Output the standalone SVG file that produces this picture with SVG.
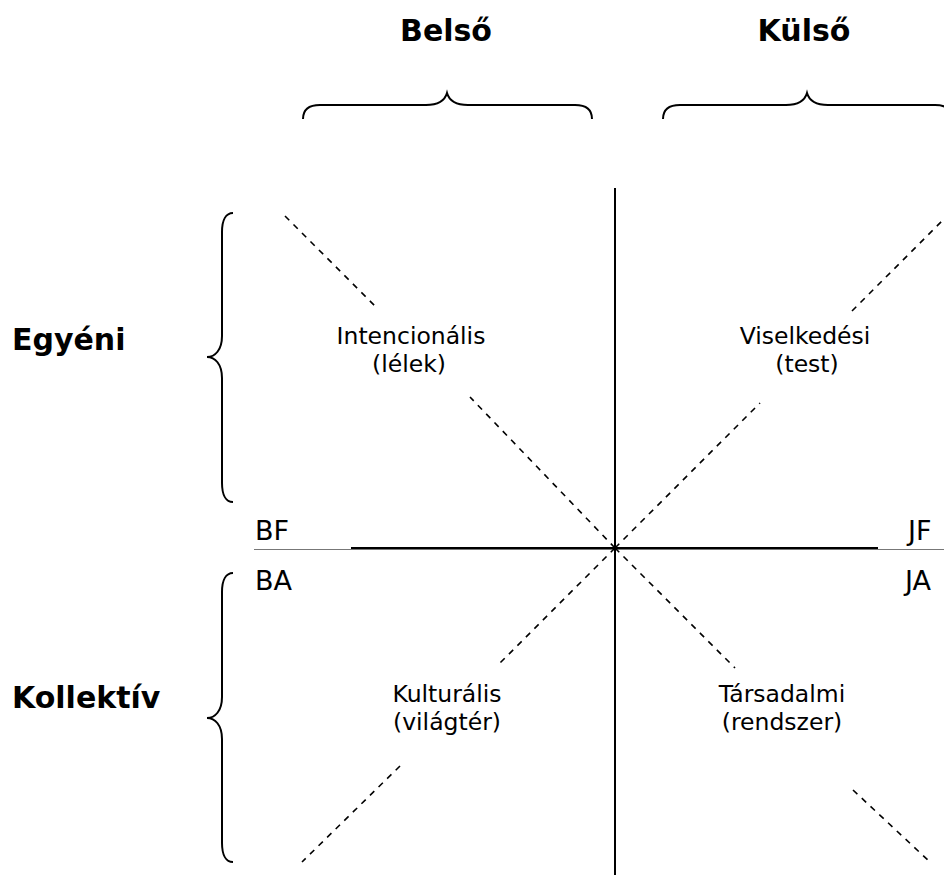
<svg xmlns="http://www.w3.org/2000/svg" width="944" height="875" viewBox="0 0 944 875">
  <style>
    .head { font-family: "DejaVu Sans", Verdana, sans-serif; font-weight: bold; font-size: 30px; fill: #000; }
    .lbl { font-family: "DejaVu Sans", Verdana, sans-serif; font-size: 23.5px; fill: #000; text-anchor: middle; }
    .corner { font-family: "DejaVu Sans", Verdana, sans-serif; font-size: 27px; fill: #000; }
    .brace { fill: none; stroke: #000; stroke-width: 2; }
    .axis { stroke: #000; stroke-width: 2; }
    .dash { stroke: #000; stroke-width: 1.6; stroke-dasharray: 6 6; fill: none; }
  </style>
  <rect width="944" height="875" fill="#fff"/>

  <!-- column headings -->
  <g id="belso">
    <text class="head" x="446" y="41" text-anchor="middle">Belső</text>
    <path class="brace" d="M303,119 C303,110 308,105 320,105 L426,105 C438,105 445,100 447,93 C449,100 456,105 468,105 L575,105 C587,105 592,110 592,119"/>
  </g>
  <g id="kulso">
    <text class="head" x="804" y="41" text-anchor="middle">Külső</text>
    <path class="brace" d="M663,119 C663,110 668,105 680,105 L786,105 C798,105 805,100 807,93 C809,100 816,105 828,105 L935,105 C947,105 952,110 952,119"/>
  </g>

  <!-- row headings -->
  <g id="egyeni">
    <text class="head" x="12" y="350">Egyéni</text>
    <path class="brace" d="M233,213 C226,213 222,220 222,232 L222,336 C222,350 215,357 207,357 C215,357 222,364 222,378 L222,483 C222,495 226,502 233,502"/>
  </g>
  <g id="kollektiv">
    <text class="head" x="12" y="708">Kollektív</text>
    <path class="brace" d="M233,573 C226,573 222,580 222,592 L222,697 C222,711 215,718 207,718 C215,718 222,725 222,739 L222,843 C222,855 226,862 233,862"/>
  </g>

  <!-- axes and diagonals -->
  <g id="connectors">
    <line x1="254" y1="549.5" x2="944" y2="549.5" stroke="#777" stroke-width="1"/>
    <line class="axis" x1="351" y1="548" x2="878" y2="548"/>
    <line class="axis" x1="615" y1="188" x2="615" y2="875"/>
    <line class="dash" x1="285" y1="216" x2="377" y2="308"/>
    <line class="dash" x1="615" y1="548" x2="470" y2="397"/>
    <line class="dash" x1="615" y1="548" x2="760" y2="403"/>
    <line class="dash" x1="852" y1="311" x2="944" y2="219"/>
    <line class="dash" x1="615" y1="548" x2="498" y2="665"/>
    <line class="dash" x1="400" y1="766" x2="302" y2="862"/>
    <line class="dash" x1="615" y1="548" x2="735" y2="668"/>
    <line class="dash" x1="853" y1="790" x2="930" y2="862"/>
  </g>

  <!-- quadrant labels -->
  <g id="intencionalis">
    <text class="lbl" x="411" y="344">Intencionális</text>
    <text class="lbl" x="409" y="372">(lélek)</text>
  </g>
  <g id="viselkedesi">
    <text class="lbl" x="805" y="344">Viselkedési</text>
    <text class="lbl" x="807" y="372">(test)</text>
  </g>
  <g id="kulturalis">
    <text class="lbl" x="447" y="702">Kulturális</text>
    <text class="lbl" x="447" y="730">(világtér)</text>
  </g>
  <g id="tarsadalmi">
    <text class="lbl" x="782" y="702">Társadalmi</text>
    <text class="lbl" x="782" y="730">(rendszer)</text>
  </g>

  <!-- corner codes -->
  <g id="bf"><text class="corner" x="255" y="540">BF</text></g>
  <g id="ba"><text class="corner" x="255" y="590">BA</text></g>
  <g id="jf"><text class="corner" x="908" y="540">JF</text></g>
  <g id="ja"><text class="corner" x="905" y="590">JA</text></g>
</svg>
